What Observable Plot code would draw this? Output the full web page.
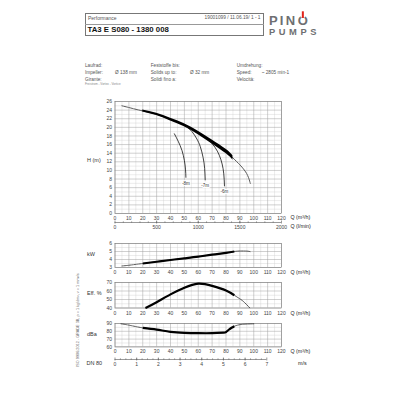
<!DOCTYPE html>
<html><head><meta charset="utf-8">
<script src="https://cdn.jsdelivr.net/npm/d3@7"></script>
<script src="https://cdn.jsdelivr.net/npm/@observablehq/plot@0.6"></script>
<style>
html,body{margin:0;padding:0;background:#fff;}
#root{position:relative;width:400px;height:400px;overflow:hidden;font-family:"Liberation Sans",Arial,sans-serif;color:#444;}
.t{position:absolute;white-space:nowrap;line-height:1;}
</style></head><body><div id="root"></div>
<script>
// ---------- data ----------
const qTicks = [0,10,20,30,40,50,60,70,80,90,100,110,120];
const headTicks = [0,2,4,6,8,10,12,14,16,18,20,22,24,26];
const kwTicks = [3,4,5,6];
const effTicks = [40,50,60,70];
const dbaTicks = [60,70,80,90];
const lminTicks = [0,500,1000,1500,2000];
const velTicks = [0,1,2,3,4,5,6,7];

const qHead = [5,10,20,30,40,50,60,70,80,85,90,95,97.5];
const head  = [25.0,24.6,23.8,23.0,21.8,20.5,18.7,16.6,14.4,12.9,11.3,9.2,7.0];

const sub8q = [42.8,45.5,48.3,50.0,50.8,51.1];
const sub8h = [18.5,16.8,14.6,12.3,10.3,8.4];
const sub7q = [51.5,55.5,59.0,61.5,63.5,64.6,65.0];
const sub7h = [20.2,19.0,17.3,15.5,13.0,10.5,7.8];
const sub6q = [68.0,72.0,75.2,77.2,78.4,78.9];
const sub6h = [16.9,15.4,13.5,11.5,9.2,6.4];
const subNames = ["-8m","-7m","-6m"];

const qPow = [5,10,20,30,40,50,60,70,80,86,90,95,97.5];
const power = [3.19,3.28,3.5,3.72,3.94,4.15,4.36,4.6,4.83,5.0,5.06,5.05,4.98];

const qEff = [22,30,40,50,60,70,80,86,90,93,97.2];
const eff  = [40,46.8,56,63.8,68.6,66.0,60.6,55,50.8,47,40];

const qDba = [4.3,10,20,30,40,50,60,70,78,80,82,84,86,90,95,100];
const dba  = [89.6,87.9,84.4,82.2,79.3,78,77.6,77.6,78.2,79,82,84.5,86.5,88.5,89.3,89.6];

// ---------- layout ----------
const X0 = 114.5, X1 = 281;
const root = document.getElementById("root");
const FONT = "'Liberation Sans',Arial,sans-serif";
const fmt = d3.format("d");

function txt(s, left, cy, opts={}){
  const d = document.createElement("div");
  d.className = "t";
  d.textContent = s;
  d.style.fontSize = (opts.size||5)+"px";
  d.style.left = left+"px";
  d.style.top = (cy - (opts.size||5)/2)+"px";
  if (opts.weight) d.style.fontWeight = opts.weight;
  if (opts.color) d.style.color = opts.color;
  if (opts.right) { d.style.left = "auto"; d.style.right = (400-left)+"px"; }
  root.append(d);
  return d;
}
function place(el, top){ el.style.position="absolute"; el.style.left="0px"; el.style.top=top+"px"; root.append(el); }

const mkPts = (qs, vs) => qs.map((q,i)=>({q, v: vs[i]}));
function segs(pts, lo, hi){ return pts.filter(d=>d.q>=lo-1e-9 && d.q<=hi+1e-9); }

function panel(o){
  const mt = 8, mb = 12;
  const svg = Plot.plot({
    width: 400, height: (o.bottom-o.top)+mt+mb,
    marginLeft: X0, marginRight: 400-X1, marginTop: mt, marginBottom: mb,
    style: `background:transparent;font-family:${FONT};font-size:5px;color:#444;overflow:visible;`,
    x: {domain:[0,120], ticks: qTicks, tickFormat: fmt, tickSize:0, tickPadding:3, label:null},
    y: {domain:o.yDomain, ticks:o.yTicks, tickFormat: fmt, tickSize:0, tickPadding:3, label:null},
    marks: [
      Plot.ruleX(o.xMinor, {stroke:"#cfcfcf", strokeWidth:0.4}),
      Plot.ruleY(o.yMinor, {stroke:"#cfcfcf", strokeWidth:0.4}),
      Plot.ruleX(qTicks, {stroke:"#a0a0a0", strokeWidth:0.5}),
      Plot.ruleY(o.yTicks, {stroke:"#a0a0a0", strokeWidth:0.5}),
      Plot.frame({stroke:"#808080", strokeWidth:0.6}),
      ...o.marks
    ]
  });
  place(svg, o.top-mt);
}

function curveMarks(pts, lo, hi, w){
  return [
    Plot.line(pts, {x:"q", y:"v", curve:"natural", stroke:"#111", strokeWidth:0.7, strokeDasharray:"1.6,0.9"}),
    Plot.line(segs(pts, lo, hi), {x:"q", y:"v", curve:"natural", stroke:"#000", strokeWidth:w, strokeLinecap:"butt"})
  ];
}

// main H chart (thick section drawn as a tapered band)
const headPts = mkPts(qHead, head);
const pxH = 26 / (213 - 101);            // head units per pixel
const lo = 20, hi = 85;
const band = segs(headPts, lo, hi).map(d => {
  const hw = (0.9 + (d.q - lo) / (hi - lo) * 1.3) * pxH;
  return {q: d.q, y1: d.v - hw, y2: d.v + hw};
});
const subs = [[sub8q,sub8h],[sub7q,sub7h],[sub6q,sub6h]];
const subPts = subs.flatMap(([qs,hs],k)=>qs.map((q,i)=>({q, v:hs[i], name:subNames[k]})));
const subEnds = subs.map(([qs,hs],k)=>({q:qs[qs.length-1], v:hs[hs.length-1], name:subNames[k]}));

panel({
  top:101, bottom:213, yDomain:[0,26], yTicks:headTicks,
  yMinor: d3.range(1,26,2), xMinor: d3.range(5,120,10),
  marks: [
    Plot.line(headPts, {x:"q", y:"v", curve:"natural", stroke:"#111", strokeWidth:0.7, strokeDasharray:"1.6,0.9"}),
    Plot.areaY(band, {x:"q", y1:"y1", y2:"y2", curve:"natural", fill:"#000"}),
    Plot.line(subPts, {x:"q", y:"v", z:"name", curve:"natural", stroke:"#111", strokeWidth:0.8}),
    Plot.text(subEnds, {x:"q", y:"v", text:"name", dy:6, fontSize:4.5, fill:"#333", stroke:"white", strokeWidth:2, paintOrder:"stroke"})
  ]
});

// kW
panel({
  top:243, bottom:267, yDomain:[3,6], yTicks:kwTicks,
  yMinor:[3.5,4.5,5.5], xMinor: d3.range(5,120,10),
  marks: curveMarks(mkPts(qPow, power), 20, 86, 2.2)
});
// Eff
panel({
  top:282, bottom:307.5, yDomain:[40,70], yTicks:effTicks,
  yMinor:[45,55,65], xMinor: d3.range(5,120,10),
  marks: curveMarks(mkPts(qEff, eff), 22, 86, 2.2)
});
// dBa
panel({
  top:323.3, bottom:346.7, yDomain:[60,90], yTicks:dbaTicks,
  yMinor:[65,75,85], xMinor: d3.range(5,120,10),
  marks: curveMarks(mkPts(qDba, dba), 20, 86, 2.2)
});

// secondary axes
function secAxis(domain, xEnd, major, minor, lineY){
  const mt = 1.5, area = 3, mb = 9;
  const svg = Plot.plot({
    width:400, height: mt+area+mb,
    marginLeft:X0, marginRight:400-xEnd, marginTop:mt, marginBottom:mb,
    style:`background:transparent;font-family:${FONT};font-size:5px;color:#444;overflow:visible;`,
    x:{domain, ticks:major, tickFormat: fmt, tickSize:0, tickPadding:1.7, label:null},
    y:{domain:[0,1], axis:null},
    marks:[
      Plot.ruleY([0.5], {stroke:"#555", strokeWidth:0.6}),
      Plot.ruleX(major, {stroke:"#555", strokeWidth:0.6}),
      Plot.ruleX(minor, {y1:0.25, y2:0.75, stroke:"#555", strokeWidth:0.5})
    ]
  });
  place(svg, lineY - mt - area/2);
}
secAxis([0,2000], X1, lminTicks, d3.range(100,2000,100), 222);
secAxis([0,7], 266.3, velTicks, d3.range(0.25,7,0.25), 359);

// axis titles
txt("H (m)", 87, 161, {size:5.5, color:"#333"});
txt("kW", 87, 255, {size:5.5, color:"#333"});
txt("Eff. %", 87, 294, {size:5.5, color:"#333"});
txt("dBa", 87, 335, {size:5.5, color:"#333"});
txt("DN 80", 86.5, 364, {size:5.5, color:"#333"});
txt("Q (m³/h)", 290.5, 217.7, {size:5.3, color:"#222"});
txt("Q (l/min)", 290.5, 227, {size:5.3, color:"#222"});
txt("Q (m³/h)", 290.5, 273, {size:5.3, color:"#222"});
txt("Q (m³/h)", 290.5, 313.5, {size:5.3, color:"#222"});
txt("Q (m³/h)", 290.5, 351.7, {size:5.3, color:"#222"});
txt("m/s", 298, 364, {size:5.3, color:"#222"});

// vertical note
const vn = txt("ISO 9906:2012 - GRADE 3B, ρ = 1 kg/dm³, ν = 1 mm²/s", 0, 0, {size:3.8, color:"#666"});
vn.style.left = "79px"; vn.style.top = "320px";
vn.style.transform = "translate(-50%,-50%) rotate(-90deg)";

// header box
const box = document.createElement("div");
Object.assign(box.style, {position:"absolute", left:"85px", top:"13px", width:"178.5px", height:"22.5px", border:"0.7px solid #777", boxSizing:"border-box"});
root.append(box);
const dv = document.createElement("div");
Object.assign(dv.style, {position:"absolute", left:"85px", top:"23.7px", width:"178.5px", height:"0", borderTop:"0.6px solid #999"});
root.append(dv);
txt("Performance", 88, 18.7, {size:5, color:"#555"});
txt("19001099 / 11.06.19/ 1 - 1", 260.5, 18.7, {size:4.8, color:"#555", right:true});
txt("TA3 E S080 - 1380 008", 87.5, 30, {size:7.8, weight:"bold", color:"#111"});

// info
const infoTop = [66, 73.2, 80];
[["Laufrad:","Impeller:","Girante:"],["Feststoffe bis:","Solids up to:","Solidi fino a:"],["Umdrehung:","Speed:","Velocità:"]]
 .forEach((col, c) => col.forEach((s, i) => txt(s, [85,150.7,236.7][c], infoTop[i], {size:4.7, color:"#555"})));
txt("Ø 138 mm", 115, 73.2, {size:4.7, color:"#555"});
txt("Ø 32 mm", 190, 73.2, {size:4.7, color:"#555"});
txt("~ 2805 min-1", 261.7, 73.2, {size:4.7, color:"#555"});
txt("Freistrom - Vortex - Vortice", 85, 84.3, {size:3, color:"#888"});

// logo
const ns = "http://www.w3.org/2000/svg";
const lg = document.createElementNS(ns, "svg");
lg.setAttribute("width", 70); lg.setAttribute("height", 40);
Object.assign(lg.style, {position:"absolute", left:"262px", top:"6px", overflow:"visible"});
root.append(lg);
function svgText(s, x, y, size, ls){
  const t = document.createElementNS(ns, "text");
  t.setAttribute("x", x); t.setAttribute("y", y);
  t.setAttribute("font-family", FONT); t.setAttribute("font-weight", "bold");
  t.setAttribute("font-size", size); t.setAttribute("letter-spacing", ls); t.setAttribute("fill", "#6e6f72");
  t.textContent = s; lg.append(t); return t;
}
const tPin = svgText("PIN", 7, 18.7, 13, 2.2);
const wPin = tPin.getComputedTextLength();
const tO = svgText("O", 7 + wPin + 0.5, 18.7, 13, 0);
svgText("PUMPS", 7, 29.3, 9.3, 3.6);
const wO = tO.getComputedTextLength();
const cx = 7 + wPin + 0.5 + wO / 2;
const gap = document.createElementNS(ns, "rect");
gap.setAttribute("x", cx - 2.2); gap.setAttribute("y", 7); gap.setAttribute("width", 4.4); gap.setAttribute("height", 4.5);
gap.setAttribute("fill", "#fff"); lg.append(gap);
const red = document.createElementNS(ns, "rect");
red.setAttribute("x", cx - 1); red.setAttribute("y", 5.3); red.setAttribute("width", 2); red.setAttribute("height", 6.7);
red.setAttribute("fill", "#e2231a"); lg.append(red);
</script></body></html>
